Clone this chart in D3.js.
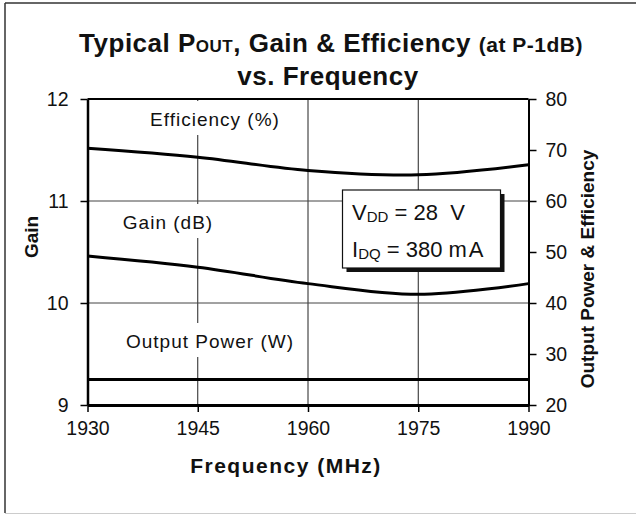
<!DOCTYPE html>
<html>
<head>
<meta charset="utf-8">
<script src="https://cdn.jsdelivr.net/npm/d3@7"></script>
<style>
  body { margin: 0; background: #fff; }
  svg { display: block; font-family: "Liberation Sans", Arial, sans-serif; }
</style>
</head>
<body>
<svg id="chart" width="636" height="515"></svg>
<script>
// values
const freqs = [1930, 1945, 1960, 1975, 1990];
const gain = [10.46, 10.35, 10.19, 10.085, 10.19];
const efficiency = [70.35, 68.6, 66.0, 65.15, 67.1];
const outputPower = [25, 25, 25, 25, 25];

const freqTicks = [1930, 1945, 1960, 1975, 1990];
const gainTicks = [9, 10, 11, 12];
const rightTicks = [20, 30, 40, 50, 60, 70, 80];
const gainGrid = [10, 11];
const freqGrid = [1945, 1960, 1975];

var svg = d3.select("#chart");

var plotL = 87.5, plotR = 528.5, plotT = 99, plotB = 405;

var x = d3.scaleLinear().domain([1930, 1990]).range([plotL, plotR]);
var yGain = d3.scaleLinear().domain([9, 12]).range([plotB, plotT]);
var yRight = d3.scaleLinear().domain([20, 80]).range([plotB, plotT]);

// outer frame (cropped on the right)
svg.append("line").attr("x1", 5).attr("y1", 3).attr("x2", 636).attr("y2", 3)
    .attr("stroke", "#333").attr("stroke-width", 1.5);
svg.append("line").attr("x1", 5).attr("y1", 3).attr("x2", 5).attr("y2", 513)
    .attr("stroke", "#333").attr("stroke-width", 1.5);
svg.append("line").attr("x1", 5).attr("y1", 513.5).attr("x2", 636).attr("y2", 513.5)
    .attr("stroke", "#ccc").attr("stroke-width", 1);

// gridlines
svg.selectAll(".vgrid").data(freqGrid).enter().append("line")
    .attr("x1", d => x(d)).attr("x2", d => x(d))
    .attr("y1", plotT).attr("y2", plotB)
    .attr("stroke", "#222").attr("stroke-width", 1);
svg.selectAll(".hgrid").data(gainGrid).enter().append("line")
    .attr("x1", plotL).attr("x2", plotR)
    .attr("y1", d => yGain(d)).attr("y2", d => yGain(d))
    .attr("stroke", "#444").attr("stroke-width", 1);

// series labels on white boxes
function seriesLabel(txt, cx, baseline) {
    var g = svg.append("g");
    var t = g.append("text")
        .attr("x", cx).attr("y", baseline)
        .attr("text-anchor", "middle")
        .attr("font-size", 19)
        .attr("letter-spacing", 1)
        .attr("fill", "#111")
        .text(txt);
    var b = t.node().getBBox();
    g.insert("rect", "text")
        .attr("x", b.x - 8).attr("y", baseline - 25)
        .attr("width", b.width + 16).attr("height", 34)
        .attr("fill", "#fff");
}
seriesLabel("Efficiency (%)", 215, 126);
seriesLabel("Gain (dB)", 168, 229);
seriesLabel("Output Power (W)", 210, 348);

// curves
var lineGain = d3.line()
    .x((d, i) => x(freqs[i]))
    .y(d => yGain(d))
    .curve(d3.curveCardinal.tension(0));
var lineRight = d3.line()
    .x((d, i) => x(freqs[i]))
    .y(d => yRight(d))
    .curve(d3.curveCardinal.tension(0));

svg.append("path").datum(efficiency).attr("d", lineRight)
    .attr("fill", "none").attr("stroke", "#000").attr("stroke-width", 3);
svg.append("path").datum(gain).attr("d", lineGain)
    .attr("fill", "none").attr("stroke", "#000").attr("stroke-width", 3);
svg.append("path").datum(outputPower).attr("d", lineRight)
    .attr("fill", "none").attr("stroke", "#000").attr("stroke-width", 3);

// bias box
var boxX = 342.5, boxY = 190, boxW = 158, boxH = 78;
svg.append("rect").attr("x", boxX + 4).attr("y", boxY + 4)
    .attr("width", boxW).attr("height", boxH).attr("fill", "#111");
svg.append("rect").attr("x", boxX).attr("y", boxY)
    .attr("width", boxW).attr("height", boxH)
    .attr("fill", "#fff").attr("stroke", "#111").attr("stroke-width", 1.2);

var t1 = svg.append("text").attr("x", 352).attr("y", 220)
    .attr("font-size", 22).attr("fill", "#111").style("white-space", "pre");
t1.append("tspan").text("V");
t1.append("tspan").attr("font-size", 15).attr("dy", 2).text("DD");
t1.append("tspan").attr("dy", -2).text(" = 28  V");

var t2 = svg.append("text").attr("x", 352).attr("y", 257)
    .attr("font-size", 22).attr("fill", "#111").style("white-space", "pre");
t2.append("tspan").text("I");
t2.append("tspan").attr("font-size", 15).attr("dy", 2).text("DQ");
t2.append("tspan").attr("dy", -2).text(" = 380 m");
t2.append("tspan").attr("dx", 2).text("A");

// axes
var axisStyle = function(g) {
    g.selectAll("text").attr("font-size", 19.5).attr("fill", "#111")
        .attr("font-family", "Liberation Sans, Arial, sans-serif");
    g.selectAll("line").attr("stroke", "#000").attr("stroke-width", 1.5);
};

svg.append("g").attr("transform", "translate(" + plotL + ",0)")
    .call(d3.axisLeft(yGain).tickValues(gainTicks).tickFormat(d3.format("d")).tickSize(7).tickSizeOuter(0).tickPadding(12))
    .call(axisStyle)
    .call(g => g.select(".domain").attr("stroke", "#000").attr("stroke-width", 2.5));

svg.append("g").attr("transform", "translate(" + plotR + ",0)")
    .call(d3.axisRight(yRight).tickValues(rightTicks).tickFormat(d3.format("d")).tickSize(8).tickSizeOuter(0).tickPadding(9))
    .call(axisStyle)
    .call(g => g.select(".domain").attr("stroke", "#000").attr("stroke-width", 2));

svg.append("g").attr("transform", "translate(0," + plotB + ")")
    .call(d3.axisBottom(x).tickValues(freqTicks).tickFormat(d3.format("d")).tickSize(7).tickSizeOuter(0).tickPadding(9))
    .call(axisStyle)
    .call(g => g.select(".domain").attr("stroke", "#000").attr("stroke-width", 3));

// top border of plot
svg.append("line").attr("x1", plotL).attr("x2", plotR).attr("y1", plotT).attr("y2", plotT)
    .attr("stroke", "#000").attr("stroke-width", 2);

// titles
var title = svg.append("text").attr("x", 331).attr("y", 52)
    .attr("text-anchor", "middle").attr("font-weight", "bold")
    .attr("font-size", 26).attr("letter-spacing", 0.5).attr("fill", "#111");
title.append("tspan").text("Typical P");
title.append("tspan").attr("font-size", 17).text("OUT");
title.append("tspan").text(", Gain & Efficiency ");
title.append("tspan").attr("font-size", 21).text("(at P-1dB)");

svg.append("text").attr("x", 328).attr("y", 85)
    .attr("text-anchor", "middle").attr("font-weight", "bold")
    .attr("font-size", 26).attr("letter-spacing", 0.5).attr("fill", "#111")
    .text("vs. Frequency");

svg.append("text").attr("x", 286).attr("y", 473)
    .attr("text-anchor", "middle").attr("font-weight", "bold")
    .attr("font-size", 21).attr("letter-spacing", 1.5).attr("fill", "#111")
    .text("Frequency (MHz)");

svg.append("text").attr("transform", "translate(38,237) rotate(-90)")
    .attr("text-anchor", "middle").attr("font-weight", "bold")
    .attr("font-size", 19).attr("fill", "#111")
    .text("Gain");

svg.append("text").attr("transform", "translate(594,269) rotate(-90)")
    .attr("text-anchor", "middle").attr("font-weight", "bold")
    .attr("font-size", 19).attr("fill", "#111")
    .text("Output Power & Efficiency");
</script>
</body>
</html>
